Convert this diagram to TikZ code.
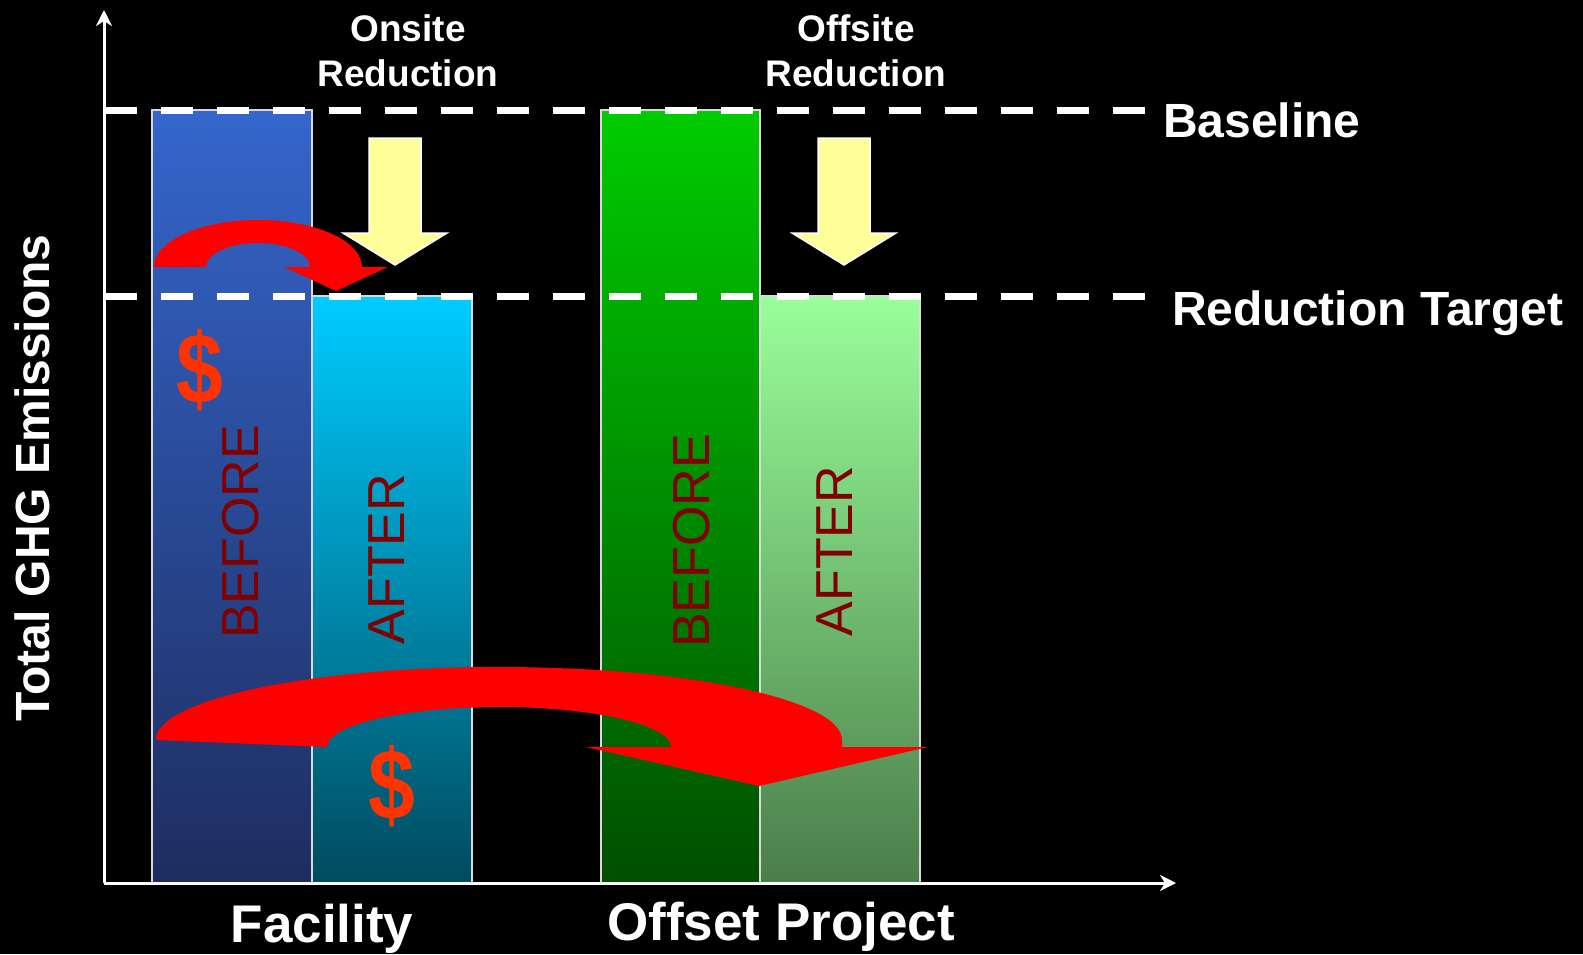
\documentclass[tikz,border=0pt]{standalone}
\usepackage{fontspec}
\setmainfont{Liberation Sans}
\usetikzlibrary{arrows.meta}

\definecolor{blueTop}{RGB}{52,102,204}
\definecolor{blueBot}{RGB}{30,45,95}
\definecolor{cyanTop}{RGB}{0,204,255}
\definecolor{cyanBot}{RGB}{0,75,95}
\definecolor{greenTop}{RGB}{0,204,0}
\definecolor{greenBot}{RGB}{0,78,0}
\definecolor{lgreenTop}{RGB}{153,255,153}
\definecolor{lgreenBot}{RGB}{75,125,75}
\definecolor{arrowYellow}{RGB}{255,255,153}
\definecolor{maroonText}{RGB}{128,0,0}
\definecolor{dollarRed}{RGB}{255,51,0}

\begin{document}
\begin{tikzpicture}[x=1pt, y=-1pt,
    bar/.style={draw=white!85!black, line width=1.5pt},
    level/.style={white, line width=7pt, dash pattern=on 32pt off 24pt},
    axis/.style={white, line width=3pt, -{Stealth[length=16pt, width=16pt, inset=5pt]}},
    downarrow/.style={fill=arrowYellow, draw=white, line width=1.5pt},
    headtext/.style={white, inner sep=0pt, anchor=base, font=\fontsize{37}{44}\selectfont\bfseries},
    leveltext/.style={white, inner sep=0pt, anchor=base west, font=\fontsize{48}{57}\selectfont\bfseries},
    groupname/.style={white, inner sep=0pt, anchor=base, font=\fontsize{53}{63}\selectfont\bfseries},
    barlabel/.style={maroonText, inner sep=0pt, rotate=90, font=\fontsize{52}{62}\selectfont},
    dollar/.style={dollarRed, inner sep=0pt, xscale=0.84, font=\fontsize{100}{120}\selectfont\bfseries}]

    % background and frame
    \fill[black] (0,0) rectangle (1583,954);
    \useasboundingbox (0,0) rectangle (1583,954);

    % bars
    \shade[bar, top color=blueTop, bottom color=blueBot] (152,110) rectangle (312,883);
    \shade[bar, top color=cyanTop, bottom color=cyanBot] (312,296) rectangle (472,883);
    \shade[bar, top color=greenTop, bottom color=greenBot] (601,110) rectangle (760,883);
    \shade[bar, top color=lgreenTop, bottom color=lgreenBot] (760,296) rectangle (920,883);

    % yellow reduction arrows
    \foreach \x in {395,844} {
        \filldraw[downarrow] (\x-26,138) -- (\x+26,138) -- (\x+26,233) -- (\x+52,233)
            -- (\x,265) -- (\x-52,233) -- (\x-26,233) -- cycle;
    }

    % red money arrows
    \fill[red] (154,267) arc[start angle=180, end angle=0, x radius=104pt, y radius=47pt]
        -- (388,267) -- (336,291) -- (284,267) -- (310,267)
        arc[start angle=0, end angle=180, x radius=52pt, y radius=24pt] -- cycle;
    \fill[red] (156,740) arc[start angle=180, end angle=0, x radius=343pt, y radius=73pt]
        -- (842,747) -- (928,747) -- (759,786) -- (586,747) -- (671,747)
        arc[start angle=0, end angle=180, x radius=172pt, y radius=40pt] -- cycle;

    % baseline and target
    \draw[level] (105,110) -- (1145,110);
    \draw[level] (105,296) -- (1145,296);

    % axes
    \coordinate (origin) at (104,883);
    \coordinate (ytop) at (104,10);
    \coordinate (xend) at (1176,883);
    \draw[axis] (origin) -- (ytop);
    \draw[axis] (origin) -- (xend);

    % labels
    \node[headtext] (onsite) at (408,41) {Onsite};
    \node[headtext] (onsitered) at (408,86) {Reduction};
    \node[headtext] (offsite) at (856,41) {Offsite};
    \node[headtext] (offsitered) at (856,86) {Reduction};
    \node[leveltext] (baseline) at (1163,137) {Baseline};
    \node[leveltext] (target) at (1172,325) {Reduction Target};
    \node[groupname] (facility) at (322,942) {Facility};
    \node[groupname] (offset) at (781,940) {Offset Project};
    \node[white, inner sep=0pt, rotate=90, font=\fontsize{48}{58}\selectfont\bfseries] (ylabel) at (32,478) {Total GHG Emissions};

    \node[barlabel] (before1) at (241,532) {BEFORE};
    \node[barlabel] (after1) at (387,559) {AFTER};
    \node[barlabel] (before2) at (692,541) {BEFORE};
    \node[barlabel] (after2) at (835,551) {AFTER};

    \node[dollar] (cost1) at (200,370) {\$};
    \node[dollar] (cost2) at (392,786) {\$};
\end{tikzpicture}
\end{document}
